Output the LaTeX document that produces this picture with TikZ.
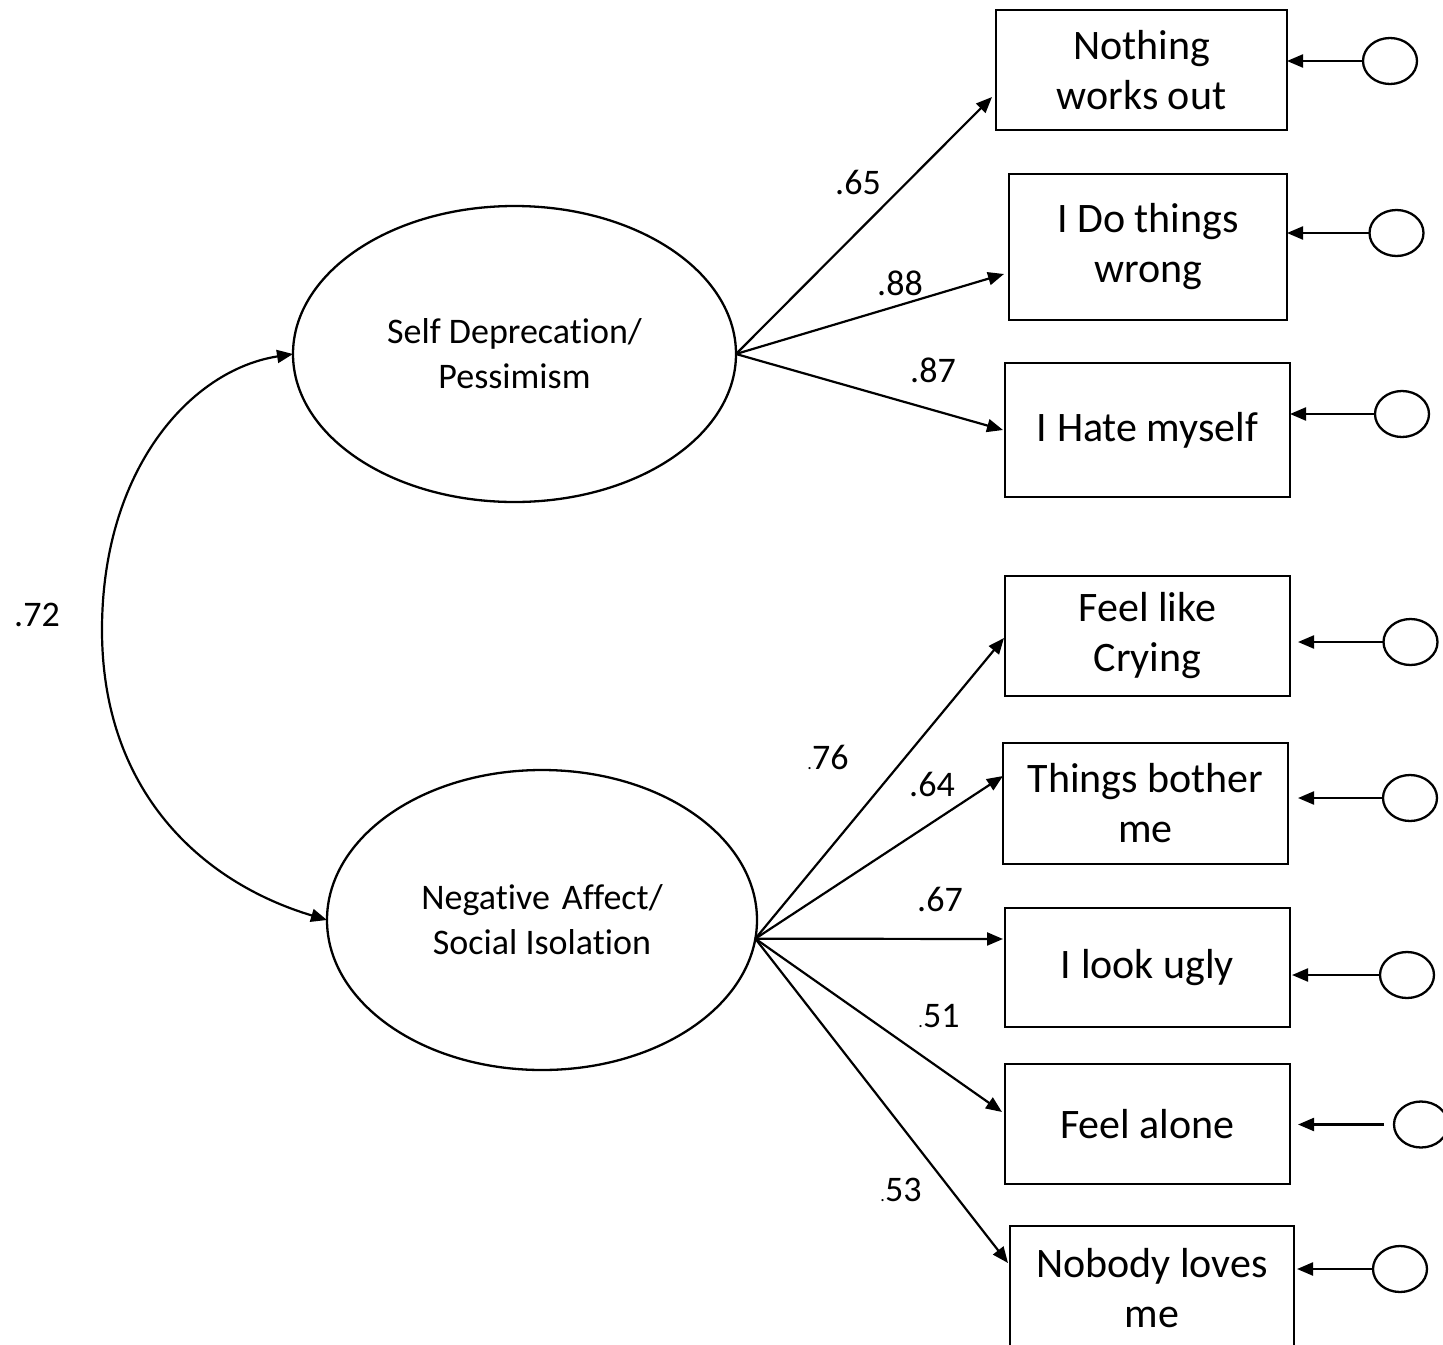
\documentclass[tikz,border=0pt]{standalone}
\usepackage{fontspec}
\setmainfont[Ligatures={NoCommon}]{Carlito}
\usetikzlibrary{arrows.meta,shapes.geometric,calc}
\begin{document}
\begin{tikzpicture}[x=1pt,y=-1pt,
  every node/.style={inner sep=0pt,outer sep=0pt},
  obsbox/.style={draw,line width=2.5pt,align=center,font=\fontsize{42}{50}\selectfont},
  latent/.style={draw,ellipse,line width=2.3pt,align=center,font=\fontsize{36}{45}\selectfont},
  errc/.style={draw,ellipse,line width=2.3pt,minimum width=54pt,minimum height=46pt},
  lbl/.style={font=\fontsize{36}{40}\selectfont},
  tip/.style={-{Triangle[length=16pt,width=13pt]}},
  arr/.style={line width=2.2pt,tip}
]
\useasboundingbox (0,0) rectangle (1443,1344);

% observed boxes
\node[obsbox,minimum width=291pt,minimum height=120pt] (B1) at (1141.5,70) {Nothing\\works out};
\node[obsbox,minimum width=278pt,minimum height=146pt] (B2) at (1148,247) {I Do things\\wrong};
\node[obsbox,minimum width=285pt,minimum height=134pt] (B3) at (1147.5,430) {I Hate myself};
\node[obsbox,minimum width=285pt,minimum height=120pt] (B4) at (1147.5,636) {Feel like\\Crying};
\node[obsbox,minimum width=285pt,minimum height=121pt] (B5) at (1145.5,803.5) {Things bother\\me};
\node[obsbox,minimum width=285pt,minimum height=119pt] (B6) at (1147.5,967.5) {I look ugly};
\node[obsbox,minimum width=285pt,minimum height=120pt] (B7) at (1147.5,1124) {Feel alone};
\node[obsbox,minimum width=284pt,minimum height=125pt] (B8) at (1152,1288.5) {Nobody loves\\me};

% latent ellipses
\node[latent,minimum width=443pt,minimum height=296pt] (E1) at (514.5,354) {Self Deprecation/\\Pessimism};
\node[latent,minimum width=430pt,minimum height=300pt] (E2) at (542,920) {Negative\hspace{12pt}Affect/\\Social Isolation};

% error circles
\node[errc] (C1) at (1390,61) {};
\node[errc] (C2) at (1396.5,233) {};
\node[errc] (C3) at (1402,414) {};
\node[errc] (C4) at (1410.5,642) {};
\node[errc] (C5) at (1410,798) {};
\node[errc] (C6) at (1407,975) {};
\node[errc] (C7) at (1421,1124.5) {};
\node[errc] (C8) at (1400,1269) {};

% arrow tip coordinates
\coordinate (t1) at ([xshift=-4pt,yshift=-27pt]B1.west);
\coordinate (t2) at ([xshift=-5pt,yshift=-27pt]B2.west);
\coordinate (t3) at ([xshift=-2pt]B3.west);
\coordinate (t4) at ([xshift=-1pt,yshift=-2pt]B4.west);
\coordinate (t5) at ([yshift=27.5pt]B5.west);
\coordinate (t6) at ([xshift=-2pt,yshift=28.5pt]B6.west);
\coordinate (t7) at ([xshift=-3pt,yshift=12pt]B7.west);
\coordinate (t8) at ([xshift=-2pt,yshift=25.5pt]B8.west);
\coordinate (s2) at (E2.-5);

% loadings
\draw[arr] (E1.east) -- (t1);
\draw[arr] (E1.east) -- (t2);
\draw[arr] (E1.east) -- (t3);
\draw[arr] (s2) -- (t4);
\draw[arr] (s2) -- (t5);
\draw[arr] (s2) -- (t6);
\draw[arr] (s2) -- (t7);
\draw[arr] (s2) -- (t8);

% error arrows
\draw[arr] (C1.west) -- (C1.west -| B1.east);
\draw[arr] (C2.west) -- (C2.west -| B2.east);
\draw[arr] (C3.west) -- (C3.west -| B3.east);
\draw[arr,shorten >=8pt] (C4.west) -- (C4.west -| B4.east);
\draw[arr,shorten >=10pt] (C5.west) -- (C5.west -| B5.east);
\draw[arr,shorten >=2pt] (C6.west) -- (C6.west -| B6.east);
\draw[arr,shorten >=8pt,shorten <=10pt] (C7.west) -- (C7.west -| B7.east);
\draw[arr,shorten >=3pt] (C8.west) -- (C8.west -| B8.east);

% correlation
\coordinate (cm) at (102,630);
\draw[line width=2.2pt,{Triangle[length=16pt,width=13pt]}-{Triangle[length=16pt,width=13pt]}]
  (E1.west) .. controls (190,370) and (102,470) .. (cm)
  .. controls (102,790) and (200,882) .. (E2.west);

% labels
\node[lbl] (l72) at (37,615) {.72};
\node[lbl] (l65) at (858,182) {.65};
\node[lbl] (l88) at (900,283) {.88};
\node[lbl] (l87) at (933,370) {.87};
\node[lbl] (l76) at (828,757) {{\fontsize{18}{18}\selectfont.}76};
\node[lbl] (l64) at (932,784) {.64};
\node[lbl] (l67) at (940,899) {.67};
\node[lbl] (l51) at (939,1016) {{\fontsize{18}{18}\selectfont.}51};
\node[lbl] (l53) at (901,1190) {{\fontsize{18}{18}\selectfont.}53};
\end{tikzpicture}
\end{document}
